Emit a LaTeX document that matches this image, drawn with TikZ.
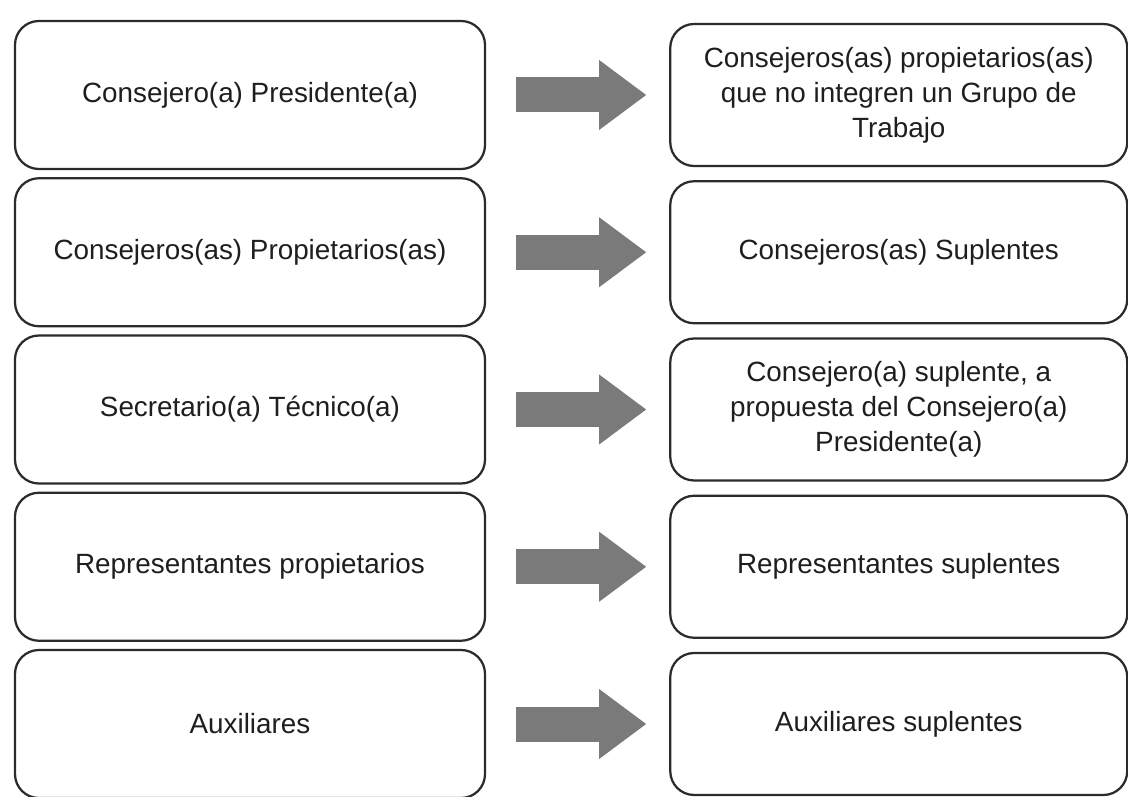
\documentclass[tikz,border=0pt]{standalone}
\usepackage{fontspec}
\setmainfont{Liberation Sans}
\usetikzlibrary{arrows.meta,positioning}
\definecolor{boxline}{HTML}{2B2B2B}
\definecolor{arrowfill}{HTML}{7A7A7A}
\definecolor{textcol}{HTML}{1E1E1E}

\begin{document}
\begin{tikzpicture}[
  role/.style={draw=boxline, line width=1.6pt, rounded corners=17pt, minimum width=11.75cm, minimum height=3.7cm, align=center, text=textcol, font=\fontsize{19.8pt}{25pt}\selectfont},
  subst/.style={role, minimum width=11.425cm, minimum height=3.55cm},
  flow/.style={arrowfill, line width=0.875cm, shorten <=0.75cm, shorten >=0.575cm, -{Triangle[length=1.175cm, width=1.75cm, line width=0pt]}},
]
  \useasboundingbox (0,0) rectangle (28.2,-19.925);

  % titulares
  \node[role] (pres) at (6.25,-2.375) {Consejero(a) Presidente(a)};
  \node[role, below=0.175cm of pres] (prop) {Consejeros(as) Propietarios(as)};
  \node[role, below=0.175cm of prop] (secr) {Secretario(a) Técnico(a)};
  \node[role, below=0.175cm of secr] (repr) {Representantes propietarios};
  \node[role, below=0.175cm of repr] (aux) {Auxiliares};

  % suplentes
  \node[subst, right=4.575cm of pres] (presS) {Consejeros(as) propietarios(as)\\que no integren un Grupo de\\Trabajo};
  \node[subst, right=4.575cm of prop] (propS) {Consejeros(as) Suplentes};
  \node[subst, right=4.575cm of secr] (secrS) {Consejero(a) suplente, a\\propuesta del Consejero(a)\\Presidente(a)};
  \node[subst, right=4.575cm of repr] (reprS) {Representantes suplentes};
  \node[subst, right=4.575cm of aux] (auxS) {Auxiliares suplentes};

  \draw[flow] (pres) -- (presS);
  \draw[flow] (prop) -- (propS);
  \draw[flow] (secr) -- (secrS);
  \draw[flow] (repr) -- (reprS);
  \draw[flow] (aux) -- (auxS);
\end{tikzpicture}
\end{document}
